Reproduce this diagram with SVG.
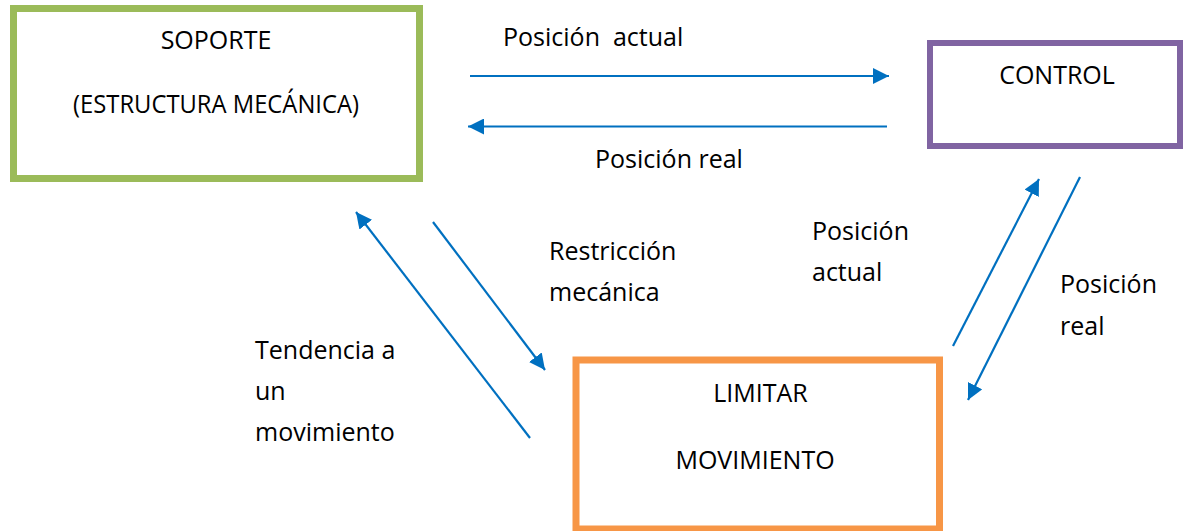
<svg xmlns="http://www.w3.org/2000/svg" width="1188" height="531" viewBox="0 0 1188 531">
<style>
.t{font-family:"Open Sans","Liberation Sans",sans-serif;font-size:25px;fill:#000;white-space:pre}
.c{text-anchor:middle}
.box{fill:#fff}
.ln{stroke:#0070C0;stroke-width:2.2;fill:none;marker-end:url(#ah)}
</style>
<defs>
<marker id="ah" markerUnits="userSpaceOnUse" markerWidth="18" markerHeight="16" refX="16" refY="8" orient="auto">
<path d="M0,0 L16,8 L0,16 Z" fill="#0070C0"/>
</marker>
</defs>
<rect width="1188" height="531" fill="#fff"/>
<g id="soporte">
<rect class="box" x="13.5" y="8.5" width="406" height="170" stroke="#9BBB59" stroke-width="7"/>
<text class="t c" x="216" y="49">SOPORTE</text>
<text class="t c" x="216" y="113" textLength="286" lengthAdjust="spacingAndGlyphs">(ESTRUCTURA MECÁNICA)</text>
</g>
<g id="control">
<rect class="box" x="930" y="43" width="250" height="103" stroke="#8064A2" stroke-width="6"/>
<text class="t c" x="1057" y="84">CONTROL</text>
</g>
<g id="limitar">
<rect class="box" x="576" y="360" width="363.5" height="169" stroke="#F79646" stroke-width="7"/>
<text class="t c" x="760.5" y="402">LIMITAR</text>
<text class="t c" x="755" y="469">MOVIMIENTO</text>
</g>
<g id="connectors">
<line class="ln" x1="470" y1="76" x2="889" y2="76"/>
<line class="ln" x1="887" y1="126.5" x2="468" y2="126.5"/>
<line class="ln" x1="433" y1="222" x2="545" y2="370"/>
<line class="ln" x1="530" y1="438" x2="356" y2="212"/>
<line class="ln" x1="953" y1="346" x2="1039" y2="179"/>
<line class="ln" x1="1080" y1="177" x2="968" y2="400"/>
</g>
<g id="labels">
<text class="t" x="503" y="46">Posición  actual</text>
<text class="t" x="595" y="168">Posición real</text>
<text class="t" x="549" y="260">Restricción</text>
<text class="t" x="549" y="301">mecánica</text>
<text class="t" x="812" y="240">Posición</text>
<text class="t" x="812" y="281">actual</text>
<text class="t" x="1060" y="293">Posición</text>
<text class="t" x="1060" y="335">real</text>
<text class="t" x="255" y="359">Tendencia a</text>
<text class="t" x="255" y="400">un</text>
<text class="t" x="255" y="441">movimiento</text>
</g>
</svg>
